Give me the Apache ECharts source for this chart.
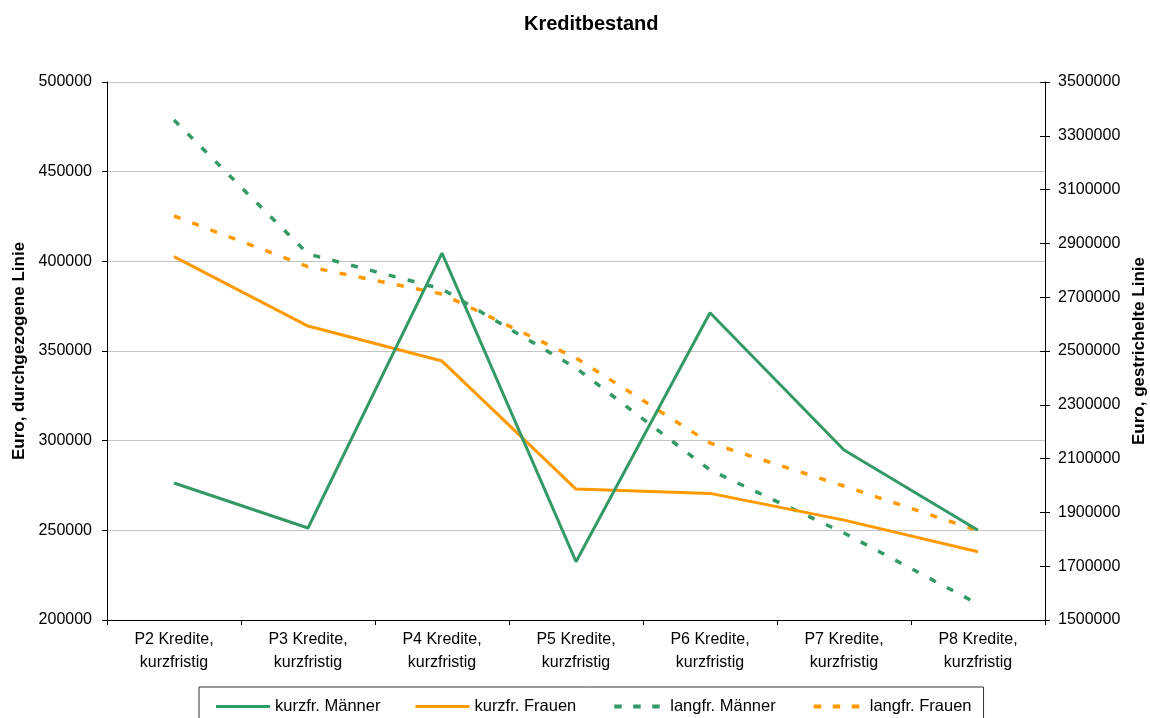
<!DOCTYPE html>
<html>
<head>
<meta charset="utf-8">
<script src="https://cdn.jsdelivr.net/npm/echarts@6/dist/echarts.min.js"></script>
<style>
  html, body { margin: 0; padding: 0; background: #fff; }
  #chart { width: 1150px; height: 718px; }
</style>
</head>
<body>
<div id="chart"></div>
<script>
// Categories and values (Euro)
const categories = [
  'P2 Kredite,\nkurzfristig', 'P3 Kredite,\nkurzfristig', 'P4 Kredite,\nkurzfristig',
  'P5 Kredite,\nkurzfristig', 'P6 Kredite,\nkurzfristig', 'P7 Kredite,\nkurzfristig',
  'P8 Kredite,\nkurzfristig'
];
// short-term loans, left axis
const kurzMaenner = [276400, 251300, 404600, 232500, 371300, 294800, 250000];
const kurzFrauen  = [402600, 363900, 344400, 273000, 270600, 255700, 238100];
// long-term loans, right axis
const langMaenner = [3358700, 2860600, 2730500, 2436800, 2057600, 1823400, 1559500];
const langFrauen  = [3001900, 2813400, 2711900, 2474000, 2158000, 1998000, 1832000];

const green = '#339966';
const orange = '#FF9900';
const font = 'Liberation Sans, Arial, sans-serif';

// legend icons: a solid bar and three short dashes
const solidIcon = 'path://M0,0h54v3h-54z';
const dashIcon = 'path://M0,0 M54,4 M3,0h7.5v4h-7.5z M22,0h7.5v4h-7.5z M41,0h7.5v4h-7.5z';

const plain = v => String(v);

const chart = echarts.init(document.getElementById('chart'));
chart.setOption({
  animation: false,
  backgroundColor: '#fff',
  title: {
    text: 'Kreditbestand',
    left: 519,
    top: 9,
    textStyle: { fontFamily: font, fontSize: 20, fontWeight: 'bold', color: '#000' }
  },
  grid: { left: 107, right: 105, top: 82, bottom: 98, outerBoundsMode: 'none', containLabel: false },
  legend: {
    left: 199,
    top: 687,
    padding: [11, 12, 11, 17],
    itemWidth: 54,
    itemHeight: 14,
    itemGap: 35,
    symbolKeepAspect: true,
    borderColor: '#333',
    borderWidth: 1,
    textStyle: { fontFamily: font, fontSize: 16.5, color: '#000' },
    data: [
      { name: 'kurzfr. Männer', icon: solidIcon, itemStyle: { color: green } },
      { name: 'kurzfr. Frauen', icon: solidIcon, itemStyle: { color: orange } },
      { name: 'langfr. Männer', icon: dashIcon, itemStyle: { color: green } },
      { name: 'langfr. Frauen', icon: dashIcon, itemStyle: { color: orange } }
    ]
  },
  xAxis: {
    type: 'category',
    data: categories,
    boundaryGap: true,
    axisLine: { lineStyle: { color: '#000', width: 1 } },
    axisTick: { show: true, length: 5, lineStyle: { color: '#000' } },
    axisLabel: {
      fontFamily: font, fontSize: 16, color: '#000', lineHeight: 23, margin: 8, interval: 0
    },
    splitLine: { show: false }
  },
  yAxis: [
    {
      type: 'value',
      min: 200000, max: 500000, interval: 50000,
      position: 'left',
      name: 'Euro, durchgezogene Linie',
      nameLocation: 'middle',
      nameGap: 79,
      nameRotate: 90,
      nameTextStyle: { fontFamily: font, fontSize: 17, fontWeight: 'bold', color: '#000' },
      axisLine: { show: true, lineStyle: { color: '#000' } },
      axisTick: { show: true, length: 5, lineStyle: { color: '#000' } },
      axisLabel: { fontFamily: font, fontSize: 16, color: '#000', margin: 15, formatter: plain },
      splitLine: { show: true, lineStyle: { color: '#c4c4c4', width: 1 } }
    },
    {
      type: 'value',
      min: 1500000, max: 3500000, interval: 200000,
      position: 'right',
      name: 'Euro, gestrichelte Linie',
      nameLocation: 'middle',
      nameGap: 86,
      nameRotate: 90,
      nameTextStyle: { fontFamily: font, fontSize: 17, fontWeight: 'bold', color: '#000' },
      axisLine: { show: true, lineStyle: { color: '#000' } },
      axisTick: { show: true, length: 5, lineStyle: { color: '#000' } },
      axisLabel: { fontFamily: font, fontSize: 16, color: '#000', margin: 13, formatter: plain },
      splitLine: { show: false }
    },
    {
      // inner half of the crossing ticks on the right axis
      type: 'value',
      min: 1500000, max: 3500000, interval: 200000,
      position: 'right',
      axisLine: { show: false },
      axisTick: { show: true, inside: true, length: 5, lineStyle: { color: '#000' } },
      axisLabel: { show: false },
      splitLine: { show: false }
    }
  ],
  series: [
    {
      name: 'kurzfr. Männer', type: 'line', yAxisIndex: 0,
      data: kurzMaenner, symbol: 'none', color: green,
      lineStyle: { color: green, width: 3 }, z: 4
    },
    {
      name: 'kurzfr. Frauen', type: 'line', yAxisIndex: 0,
      data: kurzFrauen, symbol: 'none', color: orange,
      lineStyle: { color: orange, width: 3 }, z: 3
    },
    {
      name: 'langfr. Männer', type: 'line', yAxisIndex: 1,
      data: langMaenner, symbol: 'none', color: green,
      lineStyle: { color: green, width: 3.5, type: [7, 12.5], cap: 'butt' }, z: 2
    },
    {
      name: 'langfr. Frauen', type: 'line', yAxisIndex: 1,
      data: langFrauen, symbol: 'none', color: orange,
      lineStyle: { color: orange, width: 3.5, type: [7, 12.5], cap: 'butt' }, z: 1
    }
  ]
});
</script>
</body>
</html>
